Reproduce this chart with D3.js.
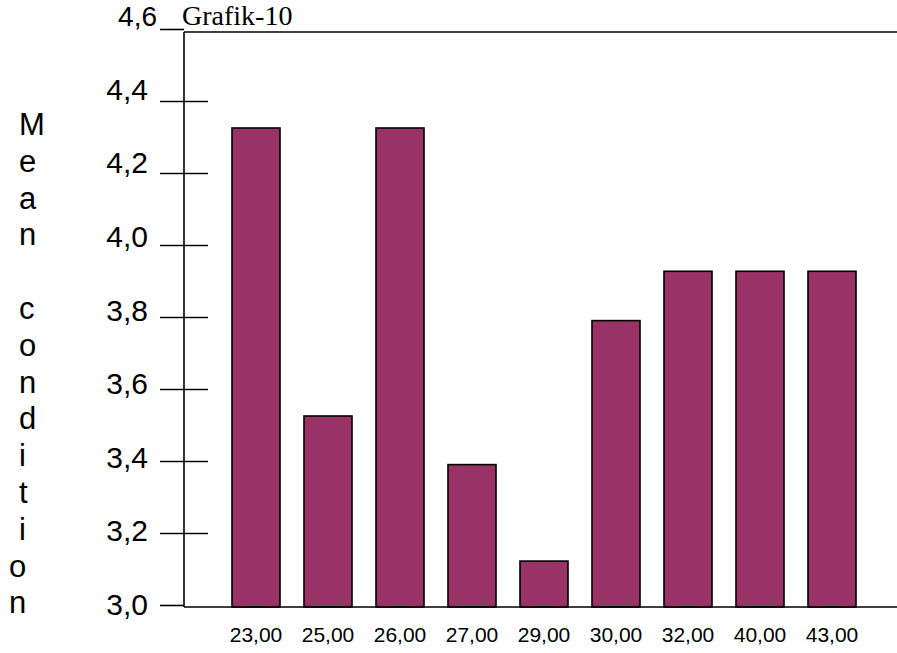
<!DOCTYPE html>
<html>
<head>
<meta charset="utf-8">
<script src="https://cdn.jsdelivr.net/npm/d3@7"></script>
<style>
  html, body { margin: 0; padding: 0; background: #fff; }
  svg { display: block; }
</style>
</head>
<body>
<svg id="chart" width="897" height="653"></svg>
<script>
// ---- data ----
const categories = ["23,00", "25,00", "26,00", "27,00", "29,00", "30,00", "32,00", "40,00", "43,00"];
const meanCondition = [4.325, 3.525, 4.325, 3.39, 3.122, 3.79, 3.927, 3.927, 3.927];
const yTickValues = [3.0, 3.2, 3.4, 3.6, 3.8, 4.0, 4.2, 4.4, 4.6];
const yTickLabels = ["3,0", "3,2", "3,4", "3,6", "3,8", "4,0", "4,2", "4,4", "4,6"];
const titleText = "Grafik-10";
const yTitle = "Mean condition";

// ---- layout ----
const svg = d3.select("#chart");
const axisX = 184, plotTop = 32, baseY = 607, plotRight = 897;

const x = d3.scaleBand()
  .domain(categories)
  .range([axisX, axisX + 720])
  .paddingInner(1 / 3)
  .paddingOuter(2 / 3);

const y = d3.scaleLinear().domain([3.0, 4.6]).range([605, 29]);
// tick labels sit slightly differently spaced than tick marks
const yLab = d3.scaleLinear().domain([3.0, 4.6]).range([615, 26]);

// ---- bars ----
svg.append("g").selectAll("rect")
  .data(meanCondition)
  .join("rect")
  .attr("x", (d, i) => x(categories[i]))
  .attr("width", x.bandwidth())
  .attr("y", d => y(d))
  .attr("height", d => baseY - y(d))
  .attr("fill", "#993366")
  .attr("stroke", "#000")
  .attr("stroke-width", 1.6);

// ---- frame lines ----
svg.append("line")
  .attr("x1", axisX).attr("x2", axisX)
  .attr("y1", plotTop).attr("y2", baseY)
  .attr("stroke", "#000").attr("stroke-width", 1.6);
svg.append("line")
  .attr("x1", axisX).attr("x2", plotRight)
  .attr("y1", plotTop).attr("y2", plotTop)
  .attr("stroke", "#000").attr("stroke-width", 1.6);
svg.append("line")
  .attr("x1", axisX).attr("x2", plotRight)
  .attr("y1", baseY).attr("y2", baseY)
  .attr("stroke", "#000").attr("stroke-width", 1.6);

// ---- y ticks via axis ----
const yAxisG = svg.append("g")
  .attr("transform", `translate(${axisX},0)`)
  .call(d3.axisLeft(y).tickValues(yTickValues).tickSize(24).tickSizeOuter(0).tickFormat(""));
yAxisG.select(".domain").remove();
yAxisG.selectAll(".tick line")
  .attr("x1", -24)
  .attr("x2", (d, i) => (i === 0 || i === yTickValues.length - 1) ? 0 : 24)
  .attr("stroke", "#000")
  .attr("stroke-width", 1.6);
yAxisG.selectAll(".tick text").remove();

// ---- y tick labels ----
const lastIdx = yTickValues.length - 1;
svg.append("g").selectAll("text")
  .data(yTickValues)
  .join("text")
  .attr("x", (d, i) => i === lastIdx ? 157 : 148)
  .attr("y", d => yLab(d))
  .attr("text-anchor", "end")
  .attr("font-family", "'Liberation Sans', Arial, sans-serif")
  .attr("font-size", (d, i) => i === lastIdx ? 28 : 30)
  .attr("fill", "#000")
  .text((d, i) => yTickLabels[i]);

// ---- x tick labels ----
svg.append("g").selectAll("text")
  .data(categories)
  .join("text")
  .attr("x", d => x(d) + x.bandwidth() / 2)
  .attr("y", 642)
  .attr("text-anchor", "middle")
  .attr("font-family", "'Liberation Sans', Arial, sans-serif")
  .attr("font-size", 21)
  .attr("fill", "#000")
  .text(d => d);

// ---- title ----
svg.append("text")
  .attr("x", 182)
  .attr("y", 25)
  .attr("font-family", "'Liberation Serif', 'Times New Roman', serif")
  .attr("font-size", 28)
  .attr("fill", "#000")
  .text(titleText);

// ---- vertical y-axis title (one letter per line) ----
const letters = yTitle.split("");
svg.append("g").selectAll("text")
  .data(letters)
  .join("text")
  .attr("x", (d, i) => i >= letters.length - 2 ? 9 : 19)
  .attr("y", (d, i) => 135 + i * 36.8)
  .attr("font-family", "'Liberation Sans', Arial, sans-serif")
  .attr("font-size", 31)
  .attr("fill", "#000")
  .text(d => d);
</script>
</body>
</html>
